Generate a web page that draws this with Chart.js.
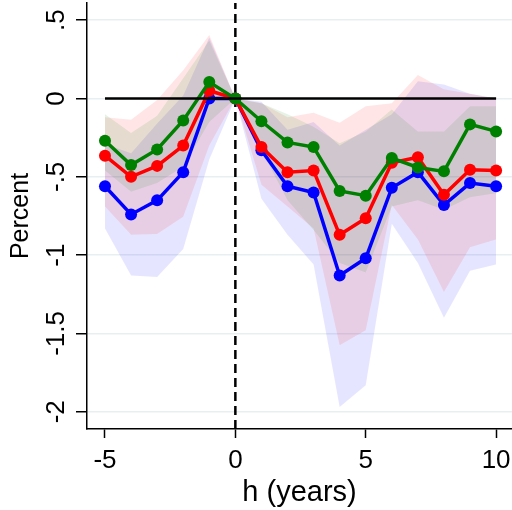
<!DOCTYPE html>
<html lang="en">
<head>
  <meta charset="UTF-8">
  <title>Percent by h (years)</title>
  <style>
    html, body { margin: 0; padding: 0; background: #ffffff; }
    #wrap { width: 512px; height: 510px; }
  </style>
</head>
<body>
  <div id="wrap"><canvas id="chart" width="512" height="510"></canvas></div>

  <script src="https://cdn.jsdelivr.net/npm/chart.js"></script>
  <script>
    // horizon (years)
    const hYears = [-5, -4, -3, -2, -1, 0, 1, 2, 3, 4, 5, 6, 7, 8, 9, 10];

    // blue series: estimate and band
    const blueCoef = [-0.56, -0.74, -0.65, -0.47, 0.00, 0, -0.33, -0.56, -0.60, -1.13, -1.02, -0.57, -0.47, -0.68, -0.54, -0.56];
    const blueLo   = [-0.83, -1.13, -1.14, -0.96, -0.39, 0, -0.64, -0.87, -1.06, -1.97, -1.83, -0.80, -1.05, -1.40, -1.10, -1.06];
    const blueHi   = [-0.29, -0.35, -0.16, 0.02, 0.39, 0, -0.02, -0.20, -0.15, -0.30, -0.20, -0.10, 0.11, 0.09, 0.03, 0.00];

    // red series
    const redCoef = [-0.365, -0.50, -0.43, -0.30, 0.05, 0, -0.31, -0.47, -0.46, -0.87, -0.765, -0.41, -0.375, -0.615, -0.455, -0.46];
    const redLo   = [-0.69, -0.87, -0.865, -0.755, -0.30, 0, -0.55, -0.69, -0.83, -1.575, -1.48, -0.68, -0.90, -1.235, -0.95, -0.90];
    const redHi   = [-0.12, -0.135, -0.01, 0.18, 0.405, 0, -0.03, -0.12, -0.09, -0.155, -0.05, -0.03, 0.15, 0.06, 0.03, 0.00];

    // green series
    const greenCoef = [-0.27, -0.425, -0.325, -0.14, 0.105, 0, -0.145, -0.28, -0.31, -0.59, -0.62, -0.38, -0.44, -0.465, -0.165, -0.21];
    const greenLo   = [-0.46, -0.595, -0.54, -0.435, -0.15, 0, -0.33, -0.65, -0.84, -1.05, -1.11, -0.69, -0.65, -0.71, -0.63, -0.605];
    const greenHi   = [-0.10, -0.22, -0.11, 0.13, 0.37, 0, -0.03, -0.10, -0.18, -0.285, -0.21, -0.07, -0.21, -0.21, -0.05, -0.05];

    // axes
    const xTickValues = [-5, 0, 5, 10];
    const xTickLabels = ['-5', '0', '5', '10'];
    const yTickValues = [-2, -1.5, -1, -0.5, 0, 0.5];
    const yTickLabels = ['-2', '-1.5', '-1', '-.5', '0', '.5'];
    const xRange = [-5.69, 10.61];
    const yRange = [-2.11, 0.61];

    const FONT = '"Liberation Sans", Arial, Helvetica, sans-serif';

    function pts(ys) {
      return hYears.map((x, i) => ({ x: x, y: ys[i] }));
    }

    function band(hi, lo, rgb, order) {
      return [
        { data: pts(hi), borderWidth: 0, pointRadius: 0, fill: false, order: order + 1 },
        { data: pts(lo), borderWidth: 0, pointRadius: 0, fill: '-1',
          backgroundColor: 'rgba(' + rgb + ',0.1)', order: order }
      ];
    }

    function series(coef, color, order) {
      return {
        data: pts(coef), borderColor: color, backgroundColor: color,
        borderWidth: 3.5, pointRadius: 6, pointBorderWidth: 0,
        pointBackgroundColor: color, fill: false, order: order
      };
    }

    // tick labels drawn by hand so the last x label may touch the edge
    // and the y labels can be turned like in Stata
    const tickLabelsPlugin = {
      id: 'tickLabels',
      afterDraw(chart) {
        const ctx = chart.ctx;
        const xs = chart.scales.x;
        const ys = chart.scales.y;
        ctx.save();
        ctx.fillStyle = '#000000';
        ctx.font = '26px ' + FONT;
        ctx.textAlign = 'center';
        ctx.textBaseline = 'alphabetic';
        xTickValues.forEach((v, i) => {
          ctx.fillText(xTickLabels[i], xs.getPixelForValue(v), 468);
        });
        yTickValues.forEach((v, i) => {
          ctx.save();
          ctx.translate(64, ys.getPixelForValue(v));
          ctx.rotate(-Math.PI / 2);
          ctx.fillText(yTickLabels[i], 0, 0);
          ctx.restore();
        });
        ctx.restore();
      }
    };

    const datasets = [].concat(
      band(blueHi, blueLo, '0,0,255', 20),
      band(redHi, redLo, '255,0,0', 17),
      band(greenHi, greenLo, '0,128,0', 14),
      [{
        // vertical dashed line at h = 0
        data: [{ x: 0, y: yRange[0] }, { x: 0, y: yRange[1] }],
        borderColor: '#000000', borderWidth: 2.5, borderDash: [9, 5],
        pointRadius: 0, fill: false, order: 10
      }],
      [series(blueCoef, '#0000ff', 4), series(redCoef, '#ff0000', 3), series(greenCoef, '#008000', 2)],
      [{
        // zero line
        data: [{ x: hYears[0], y: 0 }, { x: hYears[hYears.length - 1], y: 0 }],
        borderColor: '#000000', borderWidth: 2.5, pointRadius: 0, fill: false, order: 0
      }]
    );

    new Chart(document.getElementById('chart').getContext('2d'), {
      type: 'line',
      data: { datasets: datasets },
      plugins: [tickLabelsPlugin],
      options: {
        responsive: false,
        animation: false,
        devicePixelRatio: 1,
        layout: { autoPadding: false, padding: { top: 3, right: 0, left: 0, bottom: 0 } },
        plugins: { legend: { display: false }, tooltip: { enabled: false } },
        elements: { line: { tension: 0 } },
        scales: {
          x: {
            type: 'linear',
            min: xRange[0],
            max: xRange[1],
            afterBuildTicks: s => { s.ticks = xTickValues.map(v => ({ value: v })); },
            afterFit: s => { s.height = 81; },
            ticks: { display: false },
            grid: { drawOnChartArea: false, drawTicks: true, tickLength: 9, tickColor: '#000000', tickWidth: 1.5 },
            border: { display: true, color: '#000000', width: 1.5 },
            title: {
              display: true, text: 'h (years)', color: '#000000',
              font: { family: FONT, size: 29 }, padding: { top: 0, bottom: 0 }
            }
          },
          y: {
            type: 'linear',
            min: yRange[0],
            max: yRange[1],
            afterBuildTicks: s => { s.ticks = yTickValues.map(v => ({ value: v })); },
            afterFit: s => { s.width = 87; },
            ticks: { display: false },
            grid: { color: '#e8eff1', lineWidth: 1.5, drawTicks: true, tickLength: 11, tickColor: '#000000', tickWidth: 1.5 },
            border: { display: true, color: '#000000', width: 1.5 },
            title: {
              display: true, text: 'Percent', color: '#000000',
              font: { family: FONT, size: 25 }, padding: { top: 6, bottom: 0 }
            }
          }
        }
      }
    });
  </script>
</body>
</html>
